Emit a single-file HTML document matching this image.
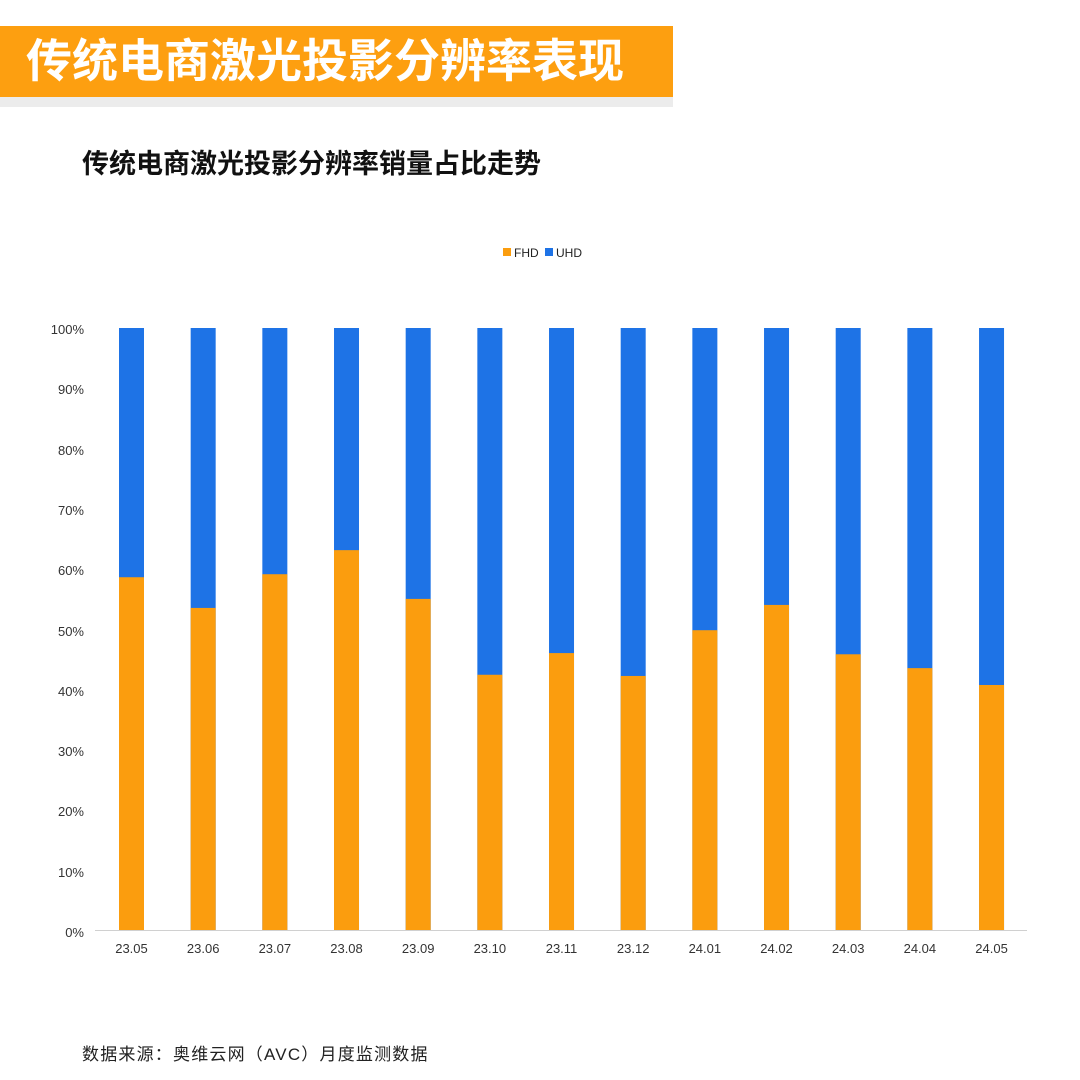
<!DOCTYPE html>
<html><head><meta charset="utf-8"><style>
body{margin:0;width:1080px;height:1080px;background:#fff;position:relative;overflow:hidden;font-family:"Liberation Sans","Noto Sans CJK SC",sans-serif}
.banner{position:absolute;left:0;top:26px;width:673px;height:71px;background:#FD9F10;color:#fff;font-size:46px;font-weight:bold;line-height:71px;padding-left:26px;box-sizing:border-box;letter-spacing:0px;white-space:nowrap}
.shadow{position:absolute;left:0;top:97px;width:673px;height:10px;background:#ececec}
.title{position:absolute;left:82px;top:142px;font-size:27px;font-weight:bold;color:#111;white-space:nowrap}
.src{position:absolute;left:82px;top:1040px;font-size:17px;color:#222;letter-spacing:1.2px;white-space:nowrap}
</style></head><body>
<div class="banner">传统电商激光投影分辨率表现</div>
<div class="shadow"></div>
<div class="title">传统电商激光投影分辨率销量占比走势</div>
<svg width="1080" height="1080" style="position:absolute;left:0;top:0" font-family="Liberation Sans, sans-serif">
<rect x="503" y="248" width="8" height="8" fill="#FB9D0E"/>
<text x="514" y="257" font-size="12" fill="#222">FHD</text>
<rect x="545" y="248" width="8" height="8" fill="#1E73E6"/>
<text x="556" y="257" font-size="12" fill="#222">UHD</text>
<g font-size="13" fill="#333" text-anchor="end">
<text x="84" y="334">100%</text><text x="84" y="394">90%</text><text x="84" y="455">80%</text><text x="84" y="515">70%</text><text x="84" y="575">60%</text><text x="84" y="636">50%</text><text x="84" y="696">40%</text><text x="84" y="756">30%</text><text x="84" y="816">20%</text><text x="84" y="877">10%</text><text x="84" y="937">0%</text>
</g>
<line x1="95" y1="930.5" x2="1027" y2="930.5" stroke="#d0d0d0"/>
<g id="bars"></g>
<g id="lbl" font-size="13" fill="#333" text-anchor="middle"></g>
</svg>
<div class="src">数据来源：奥维云网（AVC）月度监测数据</div>
<script>
var v=[58.6,53.5,59.1,63.1,55.0,42.4,46.0,42.2,49.8,54.0,45.8,43.5,40.7];
var l=["23.05","23.06","23.07","23.08","23.09","23.10","23.11","23.12","24.01","24.02","24.03","24.04","24.05"];
var ns="http://www.w3.org/2000/svg",b=document.getElementById("bars"),t=document.getElementById("lbl");
for(var i=0;i<13;i++){var cx=131.5+i*71.67,x=cx-12.5,h=v[i]*6.02;
var r=document.createElementNS(ns,"rect");r.setAttribute("x",x);r.setAttribute("y",328);r.setAttribute("width",25);r.setAttribute("height",602);r.setAttribute("fill","#1E73E6");b.appendChild(r);
r=document.createElementNS(ns,"rect");r.setAttribute("x",x);r.setAttribute("y",930-h);r.setAttribute("width",25);r.setAttribute("height",h);r.setAttribute("fill","#FB9D0E");b.appendChild(r);
var s=document.createElementNS(ns,"text");s.setAttribute("x",cx);s.setAttribute("y",953);s.textContent=l[i];t.appendChild(s);}
</script>
</body></html>
